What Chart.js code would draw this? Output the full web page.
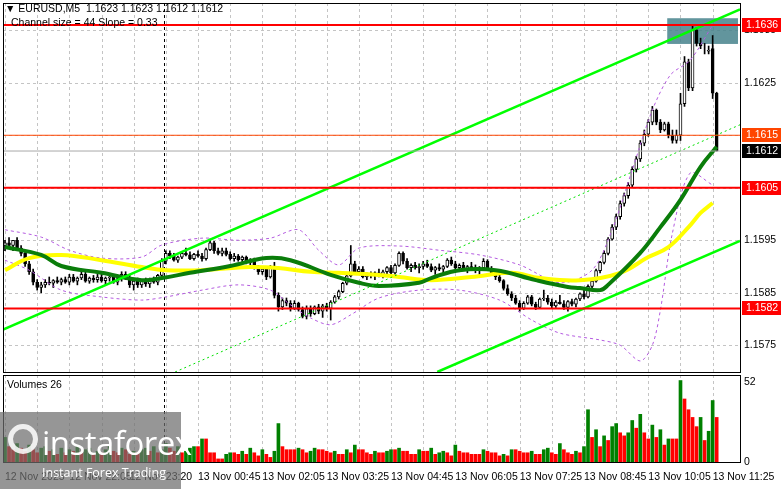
<!DOCTYPE html>
<html><head><meta charset="utf-8">
<script src="https://cdn.jsdelivr.net/npm/chart.js@4"></script>
<style>
body{margin:0;background:#fff;width:781px;height:489px;overflow:hidden;position:relative;font-family:"Liberation Sans",Arial,sans-serif}
canvas{position:absolute;left:0}
#c1{top:0}#c2{top:373px}
.t{position:absolute;font-size:10.5px;color:#000;white-space:pre;line-height:12px}
#wm{position:absolute;left:0;top:412px;width:181px;height:77px;background:rgba(110,110,110,0.72);color:#fff}
</style></head><body>
<canvas id="c1" width="781" height="374"></canvas>
<canvas id="c2" width="781" height="116"></canvas>
<div class="t" style="left:5px;top:2px">▼ EURUSD,M5  1.1623 1.1623 1.1612 1.1612</div>
<div class="t" style="left:11px;top:16px">Channel size = 44 Slope = 0.33</div>
<div class="t" style="left:7px;top:378px">Volumes 26</div>
<div id="wm">
  <div style="position:absolute;left:8px;top:12px;width:30px;height:30px;border:5px solid rgba(255,255,255,0.85);border-radius:50%;box-sizing:border-box"></div>
  <div style="position:absolute;left:42px;top:8px;font-size:33px;font-family:'Open Sans',sans-serif;letter-spacing:-0.5px">instaforex</div>
  <div style="position:absolute;left:42px;top:52px;font-size:12.5px;font-family:'Open Sans',sans-serif">Instant Forex Trading</div>
</div>
<script>
// prices are stored in pips above BASE_PRICE
const BASE_PRICE = 1.15, PIP = 0.0001;
const ohlcPips = [
[94,95,93,94.5],[94.5,95.5,93.5,94],[94,95,93,95],[95,95.5,93,93.5],
[93.5,94,92,92.5],[92.5,93,90,90.5],[90.5,91,88.5,89],[89,89.5,86.5,87],[87,87.5,85.5,86],[86,87,85,86.5],
[86.5,87.5,86,87],[87,88,86.5,86.8],[86.8,87.5,86,87.3],[87.3,88,86.8,87],[87,87.8,86.5,87.5],[87.5,88,86.8,87],[87,88.5,86.5,88],[88,88.5,87,87.2],[87.2,88,86.5,87.8],[87.8,89.5,87.5,88.5],
[88.5,89,87,87.2],[87.2,88,86.8,87.8],[87.8,88.3,87,87.5],[87.5,88.5,87,88],[88,88.5,87,87.3],[87.3,88,86.5,87.8],[87.8,88.5,87.2,88],[88,88.3,86.8,87],[87,88,86.5,87.7],[87.7,89,87.2,88.5],
[88.5,89,87.5,87.8],[87.8,88.5,86,86.5],[86.5,87.5,85.5,87.2],[87.2,87.8,86,86.5],[86.5,87.5,86,87.3],[87.3,87.8,86.2,86.7],[86.7,87.8,86,87.5],[87.5,88,86.8,87],[87,88.5,86.5,88.3],
[88.3,91.5,88,91],[91,93,90.5,92.5],
[92.5,93,91.5,92],[92,92.5,91,91.2],[91.2,92,90.8,91.8],[91.8,92.8,91.5,92.5],[92.5,93.5,92,92.2],[92.2,92.8,91.3,91.5],[91.5,92.5,91.2,92.3],[92.3,93,91.8,92],[92,92.5,91,91.5],[91.5,93.5,91.2,93.2],[93.2,95.2,93,94.5],[94.5,94.8,92.5,93],[93,93.5,92.2,92.5],[92.5,93.5,92,93],[93,93.5,92,92.3],
[92.3,92.8,91.2,91.5],[91.5,92.5,91,92],[92,92.3,91,91.3],[91.3,92,90.8,91.8],[91.8,92,90.5,90.8],[90.8,91.5,90.2,91.2],[91.2,91.6,89.5,89.8],
[89.8,90.2,88.5,89],[89,89.8,88.5,89.5],[89.5,90,87.5,88],[88,90.2,87.8,90],
[90,90.8,84,84.5],[84.5,85,81.5,82.3],
[82.3,84,81.8,83.5],[83.5,84,82.5,83],[83,83.5,81.5,82],[82,83.5,81.8,83],[83,83.2,81.5,81.8],[81.8,82.3,80.2,80.5],[80.5,82.5,80,82],[82,82.5,80.5,81],[81,82.5,80.8,82.3],[82.3,82.8,81,81.5],[81.5,82.8,80.3,82.5],[82.5,83,81.5,82],[82,83.5,79.8,83.2],[83.2,84.5,83,84.2],[84.2,85.5,83.8,85.2],
[85.2,87,85,86.8],[86.8,88.5,86.5,88.2],[88.2,94,88,90.5],[90.5,91,88.8,89],[89,90,88.5,89.5],
[89.5,90,87.8,88],[88,88.8,87.5,88.5],[88.5,89,87.8,88.2],[88.2,89,87.5,88.8],[88.8,89.5,88,88.3],[88.3,89.3,87.8,89],[89,90,88.5,89.8],[89.8,90.2,88.5,88.8],[88.8,90.5,88.5,90.2],[90.2,92.8,90,92.5],[92.5,92.8,90.5,91],[91,91.5,89.5,89.8],[89.8,90.5,89,90.2],[90.2,90.8,89.5,89.8],[89.8,90.5,88.8,90],
[90,91,89.5,90.5],[90.5,91.2,89.8,90],[90,90.5,89,89.3],[89.3,90,88.5,89.8],[89.8,90.5,89.2,89.5],[89.5,90.2,88.8,90],[90,91.5,89.8,91.2],[91.2,91.8,90.2,90.5],[90.5,91,89.5,89.8],[89.8,90.5,89,90.2],[90.2,90.8,89.3,89.5],[89.5,90.2,88.8,90],[90,90.8,89.5,89.8],[89.8,90.3,88.8,89.2],[89.2,90,88.5,89.8],
[89.8,91.5,89.5,91],[91,91.3,89.3,89.5],[89.5,90,88.5,88.8],[88.8,89.2,87.5,88],[88,88.5,87,87.3],
[87.3,87.5,85.5,85.8],[85.8,86.5,84.5,84.8],[84.8,85.2,83.5,84],[84,84.5,82.8,83],
[83,83.5,81.5,82],[82,83.3,81.8,83],[83,84.5,82.8,84.2],[84.2,84.5,82.5,82.8],[82.8,83.2,81.8,82.2],[82.2,84,82,83.8],[83.8,85.5,83.5,84],[84,84.5,82.8,83.2],[83.2,83.8,82,82.5],[82.5,83.5,82.2,83.2],[83.2,84.5,82.8,82.9],[82.9,83.5,81.8,82.2],[82.2,83.5,81.5,83.3],[83.3,83.8,82.5,82.8],[82.8,84,82.3,83.8],
[83.8,85,83.5,84.8],[84.8,85.5,83.8,84.2],[84.2,86.5,84,86.2],[86.2,87.5,85.5,87.2],
[87.2,89.5,87,89.2],[89.2,91,88.8,90.8],[90.8,93,90.5,92.5],[92.5,95.5,92.2,95.2],[95.2,98,95,97.5],[97.5,100,97,99.5],[99.5,102.5,99,102],[102,104,101.5,103.5],[103.5,106,103,105.5],[105.5,109,105,108.5],[108.5,111,108,110.5],[110.5,114,110,113.5],[113.5,116,113,115.2],[115.2,118,114.8,117.5],[117.5,120.5,117,119.8],
[119.8,120,117,117.5],[117.5,118,115.5,116],[116,117.5,115.8,117.2],[117.2,117.5,114.5,115],[115,116,113.5,114],[114,116,113.5,115],
[115,123,114,121],[121,130,120.5,129],[129,129.5,123.5,124],[124,136,123.5,135],[135,135.5,132,132.5],[132.5,133.5,131.5,132],[131,132.5,130.5,131],[131,132,130.5,131.2],[131.5,134,122,123],[123,123.2,112,112]
];
const volumes = [16,10,8,12,9,7,11,8,6,9,10,7,8,5,9,6,8,7,10,6,8,9,5,7,6,8,10,7,6,9,8,5,7,6,8,9,7,10,6,8,12,9,7,10,
6,7,9,10,10,15,15,6,6,2,2,5,6,6,5,7,5,9,6,4,8,5,3,7,25,
10,8,8,8,9,8,6,7,9,8,8,7,6,7,5,5,8,6,11,8,8,6,5,7,6,6,7,8,8,9,7,7,5,5,8,7,7,9,5,6,7,6,4,11,7,6,6,5,5,5,8,7,6,6,4,5,4,8,8,7,6,6,7,5,5,8,9,6,5,12,8,6,5,7,6,
10,34,16,21,10,17,14,23,25,19,17,19,27,22,31,19,15,24,16,21,11,15,15,15,53,41,34,29,23,29,14,20,40,29];
// moving averages and bands: [candle index, pips]
const maGreen = [[0,93.7],[9,92.2],[14,90.1],[24,88.8],[34,87.4],[39,87.8],[46,88.8],[56,90.1],[65,91.6],[71,91.2],[81,88.4],[88,86.9],[93,86.3],[103,86.9],[106,87.8],[113,89.3],[122,89.3],[132,87.4],[140,86.1],[143,85.9],[148,85.5],[150,86.5],[158,92.6],[163,97.5],[168,102.7],[173,109],[177,112.8]];
const maYellow = [[0,89.3],[6,91.6],[14,92.2],[24,91.2],[34,89.9],[40,89.3],[49,89.3],[61,89.9],[68,89.7],[76,89],[83,88.8],[93,88.4],[98,88],[106,87.4],[116,88],[126,88.8],[133,87.8],[143,87.4],[153,88.8],[160,91.8],[165,93.7],[170,97.5],[173,100.2],[176,102.1]];
const bandUpper = [[0,97],[9,95.6],[16,93.1],[24,91.6],[34,91.8],[39,94.1],[49,95.4],[58,95],[66,95.4],[73,97],[78,93.1],[83,90.3],[88,93.5],[98,93.9],[108,93.1],[118,92.2],[128,90.3],[138,86.9],[146,89.3],[151,97],[156,108.4],[161,119.8],[165.5,126.5],[170.4,129.3],[176,136]];
const bandLower = [[0,91.2],[6,89.3],[14,85.5],[24,84.2],[34,83.6],[40,84.2],[49,85.5],[58,86.5],[66,85.5],[71,82.7],[76,80.2],[81,78.9],[86,80.8],[93,84],[103,85.5],[113,85.5],[123,83.6],[131,79.8],[138,77.3],[148,76],[153,75],[158,72],[161,75],[163,81.7],[166,96.4],[170.4,107.8],[176,105.5]];
const channelUpper = [[-0.75,77.9],[182.8,139]];
const channelLower = [[107.5,69.9],[182.8,94.9]];
const channelMid = [[42.3,69.9],[182.8,117]];
const levels = [[1.1636,'#ff0000',2,'#ff0000'],[1.1615,'#ff4500',1,'#ff4500'],[1.1612,'#a8a8a8',1,'#000000'],[1.1605,'#ff0000',2,'#ff0000'],[1.1582,'#ff0000',2,'#ff0000']];
const priceTicks = [1.1575,1.1585,1.1595,1.1605,1.1615,1.1625,1.1635];
const timeLabels = [[0,'12 Nov 2025'],[16,'12 Nov 22:05'],[31,'12 Nov 23:20'],[48,'13 Nov 00:45'],[64,'13 Nov 02:05'],[80,'13 Nov 03:25'],[96,'13 Nov 04:45'],[112,'13 Nov 06:05'],[128,'13 Nov 07:25'],[144,'13 Nov 08:45'],[160,'13 Nov 10:05'],[176,'13 Nov 11:25']];
const dayBreak = 39.5;
const box = {i0:164.7, i1:182.3, p0:1.16373, p1:1.16324};

const px = v => BASE_PRICE + v*PIP;
const pts = a => a.map(([i,v]) => ({x:i, y:px(v)}));
const XMIN=-0.5, XMAX=182.8;
const FONT = {family:'"Liberation Sans", Arial, sans-serif', size:10.5};
function fitY(s){s.width=41;s.paddingTop=0;s.paddingBottom=0;}

function vgrid(ctx, ch){
  const a=ch.chartArea, x=ch.scales.x;
  ctx.save(); ctx.strokeStyle='#c4c4c4'; ctx.lineWidth=1; ctx.setLineDash([3,3]);
  for(let i=0;i<=176;i+=8){const X=Math.round(x.getPixelForValue(i))+0.5; ctx.beginPath();ctx.moveTo(X,a.top);ctx.lineTo(X,a.bottom);ctx.stroke();}
  ctx.strokeStyle='#000'; const X=Math.round(x.getPixelForValue(dayBreak))+0.5;
  ctx.beginPath();ctx.moveTo(X,a.top);ctx.lineTo(X,a.bottom);ctx.stroke();
  ctx.restore();
}
const mainDeco = {
  id:'mainDeco',
  beforeDatasetsDraw(ch){
    const ctx=ch.ctx,a=ch.chartArea,x=ch.scales.x,y=ch.scales.y;
    ctx.save(); ctx.strokeStyle='#c4c4c4'; ctx.setLineDash([3,3]); ctx.lineWidth=1;
    priceTicks.forEach(p=>{const Y=Math.round(y.getPixelForValue(p))+0.5;ctx.beginPath();ctx.moveTo(a.left,Y);ctx.lineTo(a.right,Y);ctx.stroke();});
    ctx.restore();
    vgrid(ctx,ch);
    ctx.save(); ctx.fillStyle='rgba(70,130,140,0.85)';
    const X0=x.getPixelForValue(box.i0),X1=x.getPixelForValue(box.i1),Y0=y.getPixelForValue(box.p0),Y1=y.getPixelForValue(box.p1);
    ctx.fillRect(X0,Y0,X1-X0,Y1-Y0); ctx.restore();
  },
  afterDatasetsDraw(ch){
    const ctx=ch.ctx,a=ch.chartArea,y=ch.scales.y;
    ctx.save();
    levels.forEach(([p,c,w])=>{const Y=y.getPixelForValue(p);ctx.strokeStyle=c;ctx.lineWidth=w;ctx.beginPath();ctx.moveTo(a.left,Y);ctx.lineTo(a.right,Y);ctx.stroke();});
    ctx.strokeStyle='#000';ctx.lineWidth=1;ctx.strokeRect(a.left+0.5,a.top+0.5,a.right-a.left,a.bottom-a.top);
    ctx.font='10.5px "Liberation Sans", Arial, sans-serif';ctx.textBaseline='middle';
    levels.forEach(([p,c,w,bg])=>{const Y=Math.round(y.getPixelForValue(p));ctx.fillStyle=bg;ctx.fillRect(a.right+2,Y-7,781-a.right-2,14);ctx.fillStyle='#fff';ctx.fillText(p.toFixed(4),a.right+6,Y+0.5);});
    ctx.restore();
  }
};
const volDeco = {
  id:'volDeco',
  beforeDatasetsDraw(ch){vgrid(ch.ctx,ch);},
  afterDatasetsDraw(ch){const ctx=ch.ctx,a=ch.chartArea;ctx.save();ctx.strokeStyle='#000';ctx.lineWidth=1;ctx.strokeRect(a.left+0.5,a.top+0.5,a.right-a.left,a.bottom-a.top);ctx.restore();}
};

const candleX = ohlcPips.map((c,i)=>i);
new Chart(document.getElementById('c1'),{
  type:'bar',
  data:{datasets:[
    {type:'line',data:pts(channelUpper),borderColor:'#00ff00',borderWidth:2.5,pointRadius:0,order:1},
    {type:'line',data:pts(channelLower),borderColor:'#00ff00',borderWidth:2.5,pointRadius:0,order:1},
    {type:'line',data:pts(channelMid),borderColor:'#00e000',borderWidth:1,borderDash:[2,3],pointRadius:0,order:1},
    {type:'line',data:pts(maGreen),borderColor:'#0a7d0a',borderWidth:4,pointRadius:0,tension:0.4,order:2},
    {type:'line',data:pts(maYellow),borderColor:'#ffff00',borderWidth:4,pointRadius:0,tension:0.4,order:3},
    {type:'line',data:pts(bandUpper),borderColor:'#b45be0',borderWidth:1,borderDash:[3,3],pointRadius:0,tension:0.3,order:4},
    {type:'line',data:pts(bandLower),borderColor:'#b45be0',borderWidth:1,borderDash:[3,3],pointRadius:0,tension:0.3,order:4},
    {data:ohlcPips.map((c,i)=>({x:candleX[i],y:[px(c[0]),px(c[3])]})),backgroundColor:ohlcPips.map(c=>c[3]>=c[0]?'#fff':'#000'),borderColor:'#000',borderWidth:1,borderSkipped:false,barThickness:3,grouped:false,order:5},
    {data:ohlcPips.map((c,i)=>({x:candleX[i],y:[px(c[2]),px(c[1])]})),backgroundColor:'#000',barThickness:1,grouped:false,order:6}
  ]},
  options:{
    responsive:false,animation:false,devicePixelRatio:1,
    layout:{padding:{left:3,top:3,right:0,bottom:2}},
    plugins:{legend:{display:false},tooltip:{enabled:false}},
    scales:{
      x:{type:'linear',offset:false,min:XMIN,max:XMAX,display:false},
      y:{position:'right',min:px(69.9),max:px(140.2),grid:{display:false,drawTicks:false,tickLength:0},border:{display:false},
        afterFit:fitY,
        afterBuildTicks(s){s.ticks=priceTicks.map(v=>({value:v}));},
        ticks:{color:'#000',font:FONT,padding:4,callback:v=>Number(v).toFixed(4)}}
    }
  },
  plugins:[mainDeco]
});

new Chart(document.getElementById('c2'),{
  type:'bar',
  data:{datasets:[{data:volumes.map((v,i)=>({x:i,y:v})),backgroundColor:volumes.map((v,i)=>i>0&&v<=volumes[i-1]?'#ff0000':'#008000'),barThickness:3}]},
  options:{
    responsive:false,animation:false,devicePixelRatio:1,
    layout:{padding:{left:3,top:2,right:0,bottom:0}},
    plugins:{legend:{display:false},tooltip:{enabled:false}},
    scales:{
      x:{type:'linear',offset:false,min:XMIN,max:XMAX,grid:{display:false,drawTicks:false,tickLength:0},border:{display:false},
        afterFit(s){s.height=27;s.paddingLeft=0;s.paddingRight=0;},
        afterBuildTicks(s){s.ticks=timeLabels.map(t=>({value:t[0]}));},
        ticks:{color:'#000',font:FONT,padding:9,maxRotation:0,autoSkip:false,align:'start',
          callback:v=>{const t=timeLabels.find(l=>l[0]===v);return t?t[1]:'';}}},
      y:{position:'right',min:0,max:56.6,grid:{display:false,drawTicks:false,tickLength:0},border:{display:false},
        afterFit:fitY,
        afterBuildTicks(s){s.ticks=[{value:0},{value:52}];},
        ticks:{color:'#000',font:FONT,padding:4}}
    }
  },
  plugins:[volDeco]
});
</script>
</body></html>
